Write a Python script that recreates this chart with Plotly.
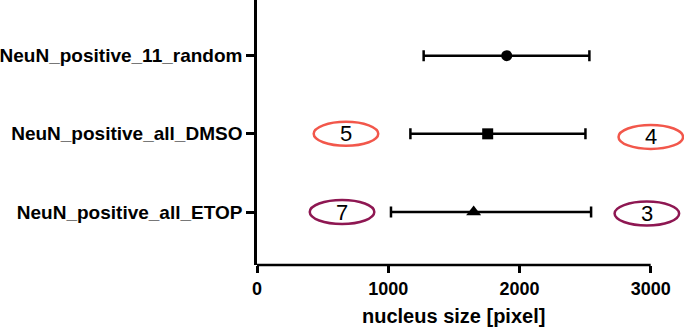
import plotly.graph_objects as go

# ---- data ----
categories = ["NeuN_positive_11_random", "NeuN_positive_all_DMSO", "NeuN_positive_all_ETOP"]
means = [1903, 1758, 1651]
lows = [1270, 1169, 1021]
highs = [2533, 2503, 2546]
symbols = ["circle", "square", "triangle-up"]
marker_sizes = [11, 11, 13]

# counts shown in ellipses (category, value position, label)
count_rows = ["NeuN_positive_all_DMSO", "NeuN_positive_all_DMSO", "NeuN_positive_all_ETOP", "NeuN_positive_all_ETOP"]
count_x = [678, 3001, 648, 2971]
count_labels = ["5", "4", "7", "3"]
count_colors = ["#F2574B", "#F2574B", "#8E1752", "#8E1752"]
count_dy = [0.0, -0.04, 0.0, -0.02]

x_ticks = [0, 1000, 2000, 3000]

FONT = "Liberation Sans, Arial, sans-serif"

# category order bottom->top
order = categories[::-1]
idx = {c: order.index(c) for c in categories}

fig = go.Figure()
for c, m, lo, hi, s, ms in zip(categories, means, lows, highs, symbols, marker_sizes):
    fig.add_trace(go.Scatter(
        x=[m], y=[c], mode="markers",
        marker=dict(symbol=s, size=ms, color="black"),
        error_x=dict(type="data", symmetric=False, array=[hi - m], arrayminus=[m - lo],
                     color="black", thickness=2.5, width=5.5),
        showlegend=False, cliponaxis=False,
    ))

shapes = []
annotations = []
half_w = 246
half_h = 0.153
for r, x, lab, col, dy in zip(count_rows, count_x, count_labels, count_colors, count_dy):
    yc = idx[r] + dy
    shapes.append(dict(type="circle", xref="x", yref="y",
                       x0=x - half_w, x1=x + half_w, y0=yc - half_h, y1=yc + half_h,
                       line=dict(color=col, width=2.5), fillcolor="rgba(0,0,0,0)"))
    annotations.append(dict(x=x, y=yc, xref="x", yref="y", text=lab, showarrow=False,
                            font=dict(family=FONT, size=22, color="black")))

# bottom axis line only from 0 to 3000
shapes.append(dict(type="line", xref="x", yref="paper", x0=x_ticks[0], x1=x_ticks[-1], y0=0, y1=0,
                   line=dict(color="black", width=2.5)))

annotations.append(dict(x=1500, y=-0.192, xref="x", yref="paper", text="nucleus size [pixel]",
                        showarrow=False, yanchor="middle",
                        font=dict(family=FONT, size=20, color="black", weight="bold")))

fig.update_layout(
    width=685, height=330,
    margin=dict(l=257, r=1, t=0, b=65),
    plot_bgcolor="white", paper_bgcolor="white",
    shapes=shapes, annotations=annotations,
    xaxis=dict(range=[0, 3254], tickvals=x_ticks, ticktext=[str(v) for v in x_ticks],
               showgrid=False, zeroline=False, showline=False,
               ticks="outside", ticklen=7, tickwidth=2.5, tickcolor="black",
               tickfont=dict(family=FONT, size=18, color="black", weight="bold")),
    yaxis=dict(type="category", categoryorder="array", categoryarray=order,
               range=[-0.678, 2.712], showgrid=False, zeroline=False,
               showline=True, linecolor="black", linewidth=2.5,
               ticks="outside", ticklen=8, tickwidth=2.5, tickcolor="black",
               tickfont=dict(family=FONT, size=19, color="black", weight="bold")),
)

fig.write_html("out.html", config={"displayModeBar": False},
               post_script="document.body.style.margin='0';")
